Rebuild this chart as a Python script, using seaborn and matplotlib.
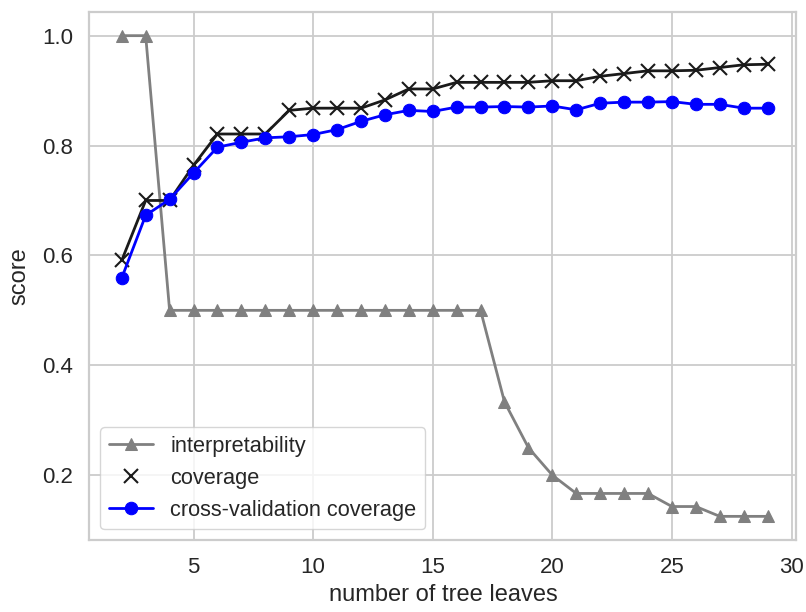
import matplotlib
matplotlib.use("Agg")
import matplotlib.pyplot as plt
import seaborn as sns

# number of tree leaves
leaves = list(range(2, 30))

interpretability = [1.0, 1.0, 0.5, 0.5, 0.5, 0.5, 0.5, 0.5, 0.5, 0.5, 0.5,
                    0.5, 0.5, 0.5, 0.5, 0.5, 0.3333, 0.25, 0.2, 0.1667,
                    0.1667, 0.1667, 0.1667, 0.1429, 0.1429, 0.125, 0.125, 0.125]

coverage = [0.591, 0.700, 0.700, 0.764, 0.821, 0.821, 0.821, 0.864, 0.868,
            0.868, 0.868, 0.883, 0.903, 0.903, 0.915, 0.915, 0.915, 0.915,
            0.918, 0.918, 0.926, 0.931, 0.936, 0.936, 0.937, 0.942, 0.947,
            0.948]

cv_coverage = [0.559, 0.673, 0.702, 0.750, 0.797, 0.806, 0.814, 0.816, 0.820,
               0.829, 0.844, 0.856, 0.864, 0.862, 0.870, 0.870, 0.871, 0.870,
               0.872, 0.865, 0.877, 0.879, 0.879, 0.880, 0.875, 0.875, 0.868,
               0.868]

sns.set_theme(style="whitegrid")
plt.rcParams["font.family"] = ["Liberation Sans", "DejaVu Sans"]
plt.rcParams["axes.edgecolor"] = "0.8"
plt.rcParams["grid.color"] = "0.8"
plt.rcParams["grid.linewidth"] = 1.3
plt.rcParams["axes.linewidth"] = 1.6

fig, ax = plt.subplots(figsize=(8.06, 6.12), dpi=100)
fig.subplots_adjust(left=0.111, right=0.988, top=0.981, bottom=0.117)

sns.lineplot(x=leaves, y=interpretability, ax=ax, color="gray", marker="^",
             markersize=9, markeredgecolor="gray", linewidth=2,
             label="interpretability")
sns.lineplot(x=leaves, y=coverage, ax=ax, color="k", linewidth=2,
             legend=False)
sns.lineplot(x=leaves, y=coverage, ax=ax, color="k", marker="x",
             linestyle="", markersize=9.5, markeredgecolor="k",
             markeredgewidth=1.5, label="coverage")
sns.lineplot(x=leaves, y=cv_coverage, ax=ax, color="blue", marker="o",
             markersize=9, markeredgecolor="blue", linewidth=2,
             label="cross-validation coverage")

ax.set_xlim(0.65, 30.2)
ax.set_xlabel("number of tree leaves", fontsize=17, labelpad=4)
ax.set_ylabel("score", fontsize=17, labelpad=8)
ax.tick_params(axis="both", labelsize=16, pad=6)
ax.set_yticks([0.2, 0.4, 0.6, 0.8, 1.0])
ax.set_xticks([5, 10, 15, 20, 25, 30])

leg = ax.legend(loc="lower left", fontsize=15.7, frameon=True,
                handlelength=2.0, borderaxespad=0.5)
leg.get_frame().set_edgecolor("0.8")

fig.savefig("out.png", dpi=100)
